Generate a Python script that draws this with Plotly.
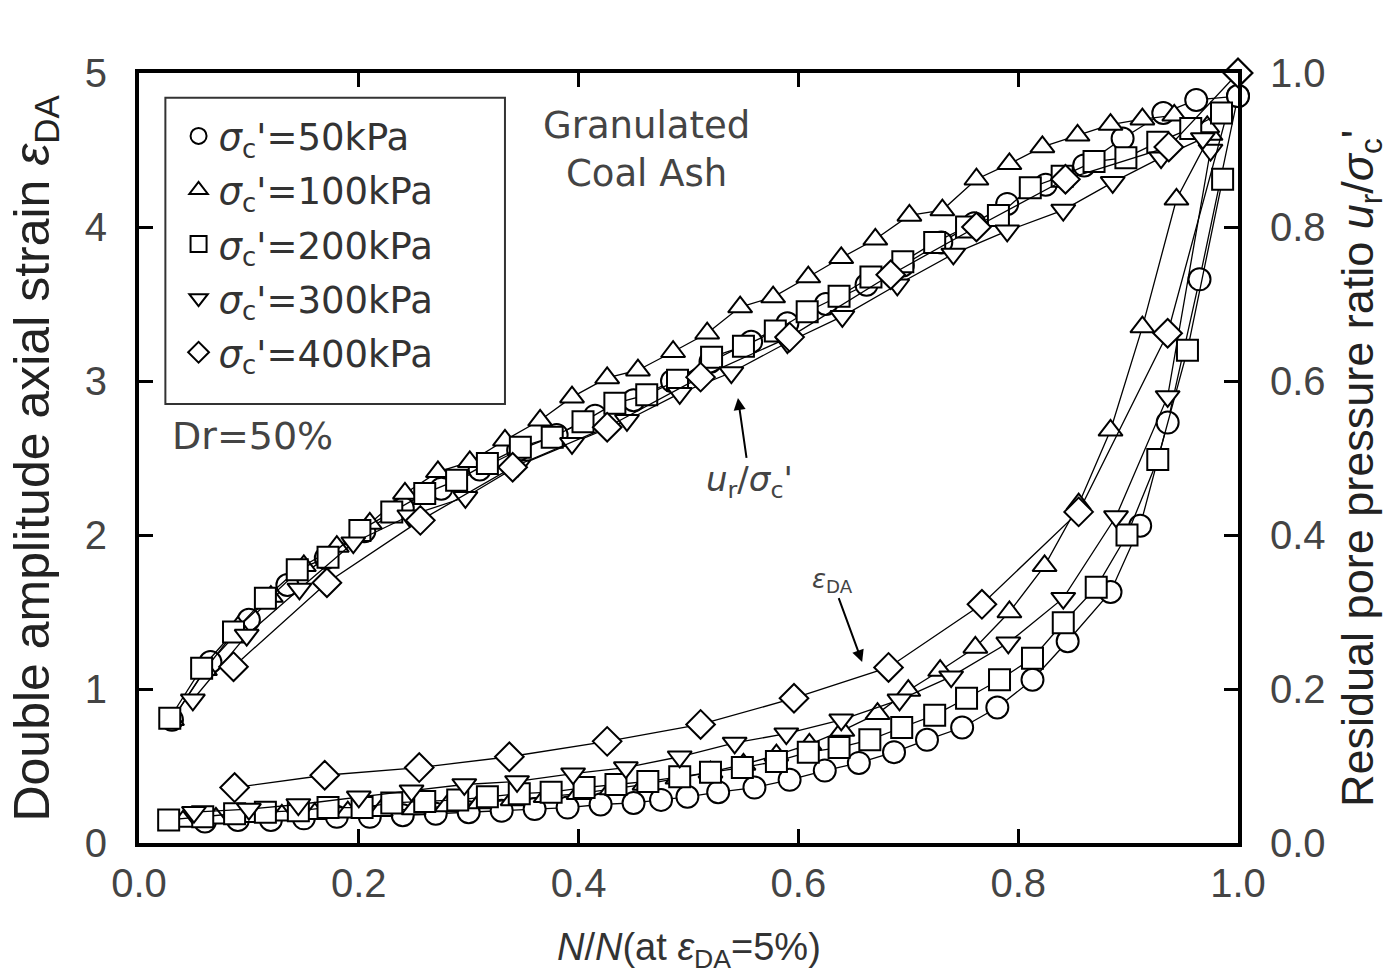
import plotly.graph_objects as go

# ---------------- data ----------------
# double amplitude axial strain (left axis, %)
x_eps_50 = [0.06, 0.09, 0.12, 0.15, 0.18, 0.21, 0.24, 0.27, 0.30, 0.33, 0.36, 0.39, 0.42, 0.45, 0.475, 0.499,
            0.527, 0.560, 0.592, 0.624, 0.655, 0.687, 0.717, 0.749, 0.781, 0.813, 0.845, 0.884, 0.911, 0.936,
            0.965, 1.0]
eps_50 = [0.14, 0.15, 0.15, 0.16, 0.17, 0.17, 0.18, 0.19, 0.20, 0.21, 0.22, 0.23, 0.25, 0.26, 0.28, 0.30,
          0.33, 0.36, 0.41, 0.47, 0.52, 0.59, 0.67, 0.75, 0.88, 1.06, 1.31, 1.63, 2.06, 2.73, 3.66, 4.85]

x_eps_100 = [0.04, 0.07, 0.10, 0.13, 0.16, 0.19, 0.22, 0.25, 0.28, 0.31, 0.34, 0.37, 0.40, 0.43, 0.46, 0.49,
             0.52, 0.55, 0.58, 0.61, 0.64, 0.672, 0.700, 0.729, 0.761, 0.792, 0.824, 0.855, 0.884, 0.913,
             0.944, 0.975]
eps_100 = [0.14, 0.16, 0.17, 0.18, 0.19, 0.20, 0.21, 0.22, 0.24, 0.26, 0.28, 0.30, 0.32, 0.35, 0.38, 0.42,
           0.46, 0.51, 0.57, 0.64, 0.73, 0.84, 0.99, 1.12, 1.27, 1.50, 1.80, 2.20, 2.68, 3.35, 4.18, 4.60]

x_eps_200 = [0.027, 0.058, 0.087, 0.115, 0.145, 0.172, 0.203, 0.23, 0.26, 0.29, 0.317, 0.346, 0.375, 0.405,
             0.434, 0.463, 0.492, 0.520, 0.549, 0.580, 0.609, 0.637, 0.665, 0.694, 0.724, 0.753, 0.783,
             0.813, 0.841, 0.871, 0.899, 0.927, 0.954, 0.986]
eps_200 = [0.15, 0.17, 0.19, 0.20, 0.21, 0.23, 0.23, 0.26, 0.27, 0.28, 0.30, 0.32, 0.33, 0.36, 0.38, 0.40,
           0.43, 0.46, 0.49, 0.53, 0.59, 0.62, 0.67, 0.75, 0.83, 0.94, 1.06, 1.20, 1.43, 1.66, 2.00, 2.49,
           3.20, 4.31]

x_eps_300 = [0.05, 0.10, 0.145, 0.20, 0.248, 0.296, 0.344, 0.395, 0.443, 0.492, 0.542, 0.589, 0.639, 0.692,
             0.739, 0.791, 0.841, 0.889, 0.936, 0.975]
eps_300 = [0.20, 0.22, 0.25, 0.30, 0.34, 0.38, 0.40, 0.45, 0.49, 0.56, 0.65, 0.71, 0.80, 0.93, 1.08, 1.30,
           1.59, 2.12, 2.90, 4.50]

x_eps_400 = [0.087, 0.169, 0.255, 0.337, 0.426, 0.511, 0.596, 0.682, 0.767, 0.855, 0.936, 1.0]
eps_400 = [0.36, 0.44, 0.49, 0.56, 0.66, 0.77, 0.94, 1.14, 1.55, 2.15, 3.31, 5.0]

# residual pore pressure ratio (right axis)
x_u_50 = [0.03, 0.065, 0.10, 0.135, 0.17, 0.205, 0.24, 0.275, 0.31, 0.345, 0.38, 0.415, 0.45, 0.485, 0.52,
          0.557, 0.59, 0.625, 0.662, 0.695, 0.73, 0.76, 0.79, 0.825, 0.86, 0.895, 0.932, 0.962, 1.0]
u_50 = [0.16, 0.235, 0.29, 0.335, 0.37, 0.405, 0.435, 0.46, 0.485, 0.51, 0.53, 0.555, 0.575, 0.60, 0.625,
        0.651, 0.675, 0.70, 0.725, 0.75, 0.78, 0.805, 0.83, 0.855, 0.88, 0.915, 0.948, 0.965, 0.97]

x_u_100 = [0.03, 0.06, 0.09, 0.12, 0.15, 0.18, 0.21, 0.242, 0.272, 0.301, 0.333, 0.365, 0.394, 0.426, 0.454,
           0.486, 0.517, 0.547, 0.577, 0.609, 0.639, 0.670, 0.701, 0.731, 0.762, 0.792, 0.822, 0.854, 0.884,
           0.913, 0.942, 0.972]
u_100 = [0.16, 0.225, 0.28, 0.32, 0.36, 0.385, 0.415, 0.454, 0.482, 0.495, 0.523, 0.549, 0.579, 0.604, 0.614,
         0.638, 0.662, 0.696, 0.709, 0.735, 0.760, 0.784, 0.815, 0.822, 0.862, 0.882, 0.904, 0.919, 0.933,
         0.940, 0.945, 0.930]

x_u_200 = [0.028, 0.057, 0.086, 0.115, 0.144, 0.172, 0.201, 0.230, 0.260, 0.289, 0.317, 0.347, 0.376, 0.404,
           0.433, 0.462, 0.490, 0.521, 0.550, 0.579, 0.608, 0.637, 0.666, 0.695, 0.724, 0.753, 0.782, 0.811,
           0.840, 0.869, 0.898, 0.927, 0.957, 0.985]
u_200 = [0.162, 0.227, 0.274, 0.318, 0.355, 0.371, 0.406, 0.430, 0.454, 0.471, 0.493, 0.514, 0.527, 0.547,
         0.571, 0.582, 0.601, 0.631, 0.645, 0.665, 0.690, 0.710, 0.735, 0.755, 0.780, 0.800, 0.815, 0.851,
         0.866, 0.885, 0.890, 0.910, 0.928, 0.948]

x_u_300 = [0.049, 0.098, 0.146, 0.195, 0.246, 0.297, 0.345, 0.394, 0.444, 0.492, 0.539, 0.590, 0.640, 0.690,
           0.741, 0.790, 0.841, 0.886, 0.930, 0.968]
u_300 = [0.186, 0.270, 0.330, 0.390, 0.425, 0.449, 0.490, 0.519, 0.549, 0.584, 0.611, 0.650, 0.684, 0.725,
         0.765, 0.795, 0.822, 0.858, 0.890, 0.915]

x_u_400 = [0.086, 0.171, 0.256, 0.340, 0.426, 0.511, 0.592, 0.684, 0.762, 0.843, 0.937, 1.0]
u_400 = [0.229, 0.338, 0.419, 0.488, 0.540, 0.605, 0.657, 0.738, 0.800, 0.862, 0.904, 1.0]

series_names = ["<i>σ</i><sub>c</sub>'=50kPa", "<i>σ</i><sub>c</sub>'=100kPa", "<i>σ</i><sub>c</sub>'=200kPa",
                "<i>σ</i><sub>c</sub>'=300kPa", "<i>σ</i><sub>c</sub>'=400kPa"]
symbols = ["circle", "triangle-up", "square", "triangle-down", "diamond"]

x_ticks = [0.0, 0.2, 0.4, 0.6, 0.8, 1.0]
eps_ticks = [0, 1, 2, 3, 4, 5]
u_ticks = [0.0, 0.2, 0.4, 0.6, 0.8, 1.0]

# ---------------- figure ----------------
fig = go.Figure()

eps_x = [x_eps_50, x_eps_100, x_eps_200, x_eps_300, x_eps_400]
eps_y = [eps_50, eps_100, eps_200, eps_300, eps_400]
u_x = [x_u_50, x_u_100, x_u_200, x_u_300, x_u_400]
u_y = [u_50, u_100, u_200, u_300, u_400]

msize = [22, 21, 21, 21, 22]


def marker(i, size):
    return dict(symbol=symbols[i], size=size, color="white", line=dict(color="black", width=2))


for i in range(5):
    fig.add_trace(go.Scatter(x=eps_x[i], y=eps_y[i], mode="lines+markers", yaxis="y",
                             line=dict(color="black", width=1.3), marker=marker(i, msize[i]),
                             showlegend=False, cliponaxis=False))
for i in range(5):
    fig.add_trace(go.Scatter(x=u_x[i], y=u_y[i], mode="lines+markers", yaxis="y2",
                             line=dict(color="black", width=1.3), marker=marker(i, msize[i]),
                             showlegend=False, cliponaxis=False))
# legend entries (markers only)
for i in range(5):
    fig.add_trace(go.Scatter(x=[None], y=[None], mode="markers", name=series_names[i],
                             marker=marker(i, 16), showlegend=True, legendgroup=str(i)))

tickfont = dict(family="Liberation Sans, Arial", size=40, color="#444")
common = dict(showgrid=False, zeroline=False, ticks="inside", ticklen=14, tickwidth=2.5, tickcolor="black",
              showline=True, linewidth=4, linecolor="black", tickfont=tickfont)

fig.update_layout(
    width=1396, height=977,
    margin=dict(l=139, r=158, t=73, b=134),
    paper_bgcolor="white", plot_bgcolor="white",
    xaxis=dict(range=[0, 1.0], tickvals=x_ticks, tickformat=".1f", mirror="ticks", ticklabelstandoff=2, **common),
    yaxis=dict(range=[0, 5], tickvals=eps_ticks, mirror=True, ticklabelstandoff=20, **common),
    yaxis2=dict(range=[0, 1.0], tickvals=u_ticks, tickformat=".1f", overlaying="y", side="right",
                ticklabelstandoff=20, **common),
    showlegend=True,
    legend=dict(x=0.036, y=0.958, xanchor="left", yanchor="top", bgcolor="rgba(0,0,0,0)", borderwidth=0,
                font=dict(family="DejaVu Sans", size=37, color="#333"), tracegroupgap=3),
)

# legend frame
fig.add_shape(type="rect", xref="paper", yref="paper", x0=0.024, x1=0.333, y0=0.570, y1=0.968,
              line=dict(color="#333", width=2), fillcolor="rgba(0,0,0,0)")

ann_font = dict(family="DejaVu Sans", size=37, color="#444")
fig.add_annotation(xref="paper", yref="paper", x=0.462, y=0.901, text="Granulated<br>Coal Ash",
                   xanchor="center", yanchor="middle", showarrow=False, font=ann_font, align="center")
fig.add_annotation(xref="paper", yref="paper", x=0.028, y=0.528, text="Dr=50%", xanchor="left",
                   yanchor="middle", showarrow=False, font=dict(family="DejaVu Sans", size=38, color="#444"))
fig.add_annotation(xref="x", yref="y", x=0.545, y=2.89, ax=12, ay=84,
                   text="<i>u</i><sub>r</sub>/<i>σ</i><sub>c</sub>'", showarrow=True,
                   arrowhead=2, arrowsize=1.2, arrowwidth=2, arrowcolor="black",
                   font=dict(family="DejaVu Sans", size=34, color="#444"))
fig.add_annotation(xref="x", yref="y", x=0.658, y=1.175, ax=-30, ay=-82,
                   text="<i>ε</i><sub>DA</sub>", showarrow=True,
                   arrowhead=2, arrowsize=1.2, arrowwidth=2, arrowcolor="black",
                   font=dict(family="DejaVu Sans", size=26, color="#444"))

# axis titles
fig.add_annotation(xref="paper", yref="paper", x=-0.095, y=0.5, textangle=-90, showarrow=False,
                   xanchor="center", yanchor="middle",
                   text="Double amplitude axial strain <i>ε</i><sub>DA</sub>",
                   font=dict(family="Liberation Sans, Arial", size=50, color="#222"))
fig.add_annotation(xref="paper", yref="paper", x=1.111, y=0.487, textangle=-90, showarrow=False,
                   xanchor="center", yanchor="middle",
                   text="Residual pore pressure ratio <i>u</i><sub>r</sub>/<i>σ</i><sub>c</sub>'",
                   font=dict(family="Liberation Sans, Arial", size=45, color="#222"))
fig.add_annotation(xref="paper", yref="paper", x=0.5, y=-0.139, showarrow=False,
                   xanchor="center", yanchor="middle",
                   text="<i>N</i>/<i>N</i>(at <i>ε</i><sub>DA</sub>=5%)",
                   font=dict(family="Liberation Sans, Arial", size=38, color="#333"))

fig.write_html("out.html")
